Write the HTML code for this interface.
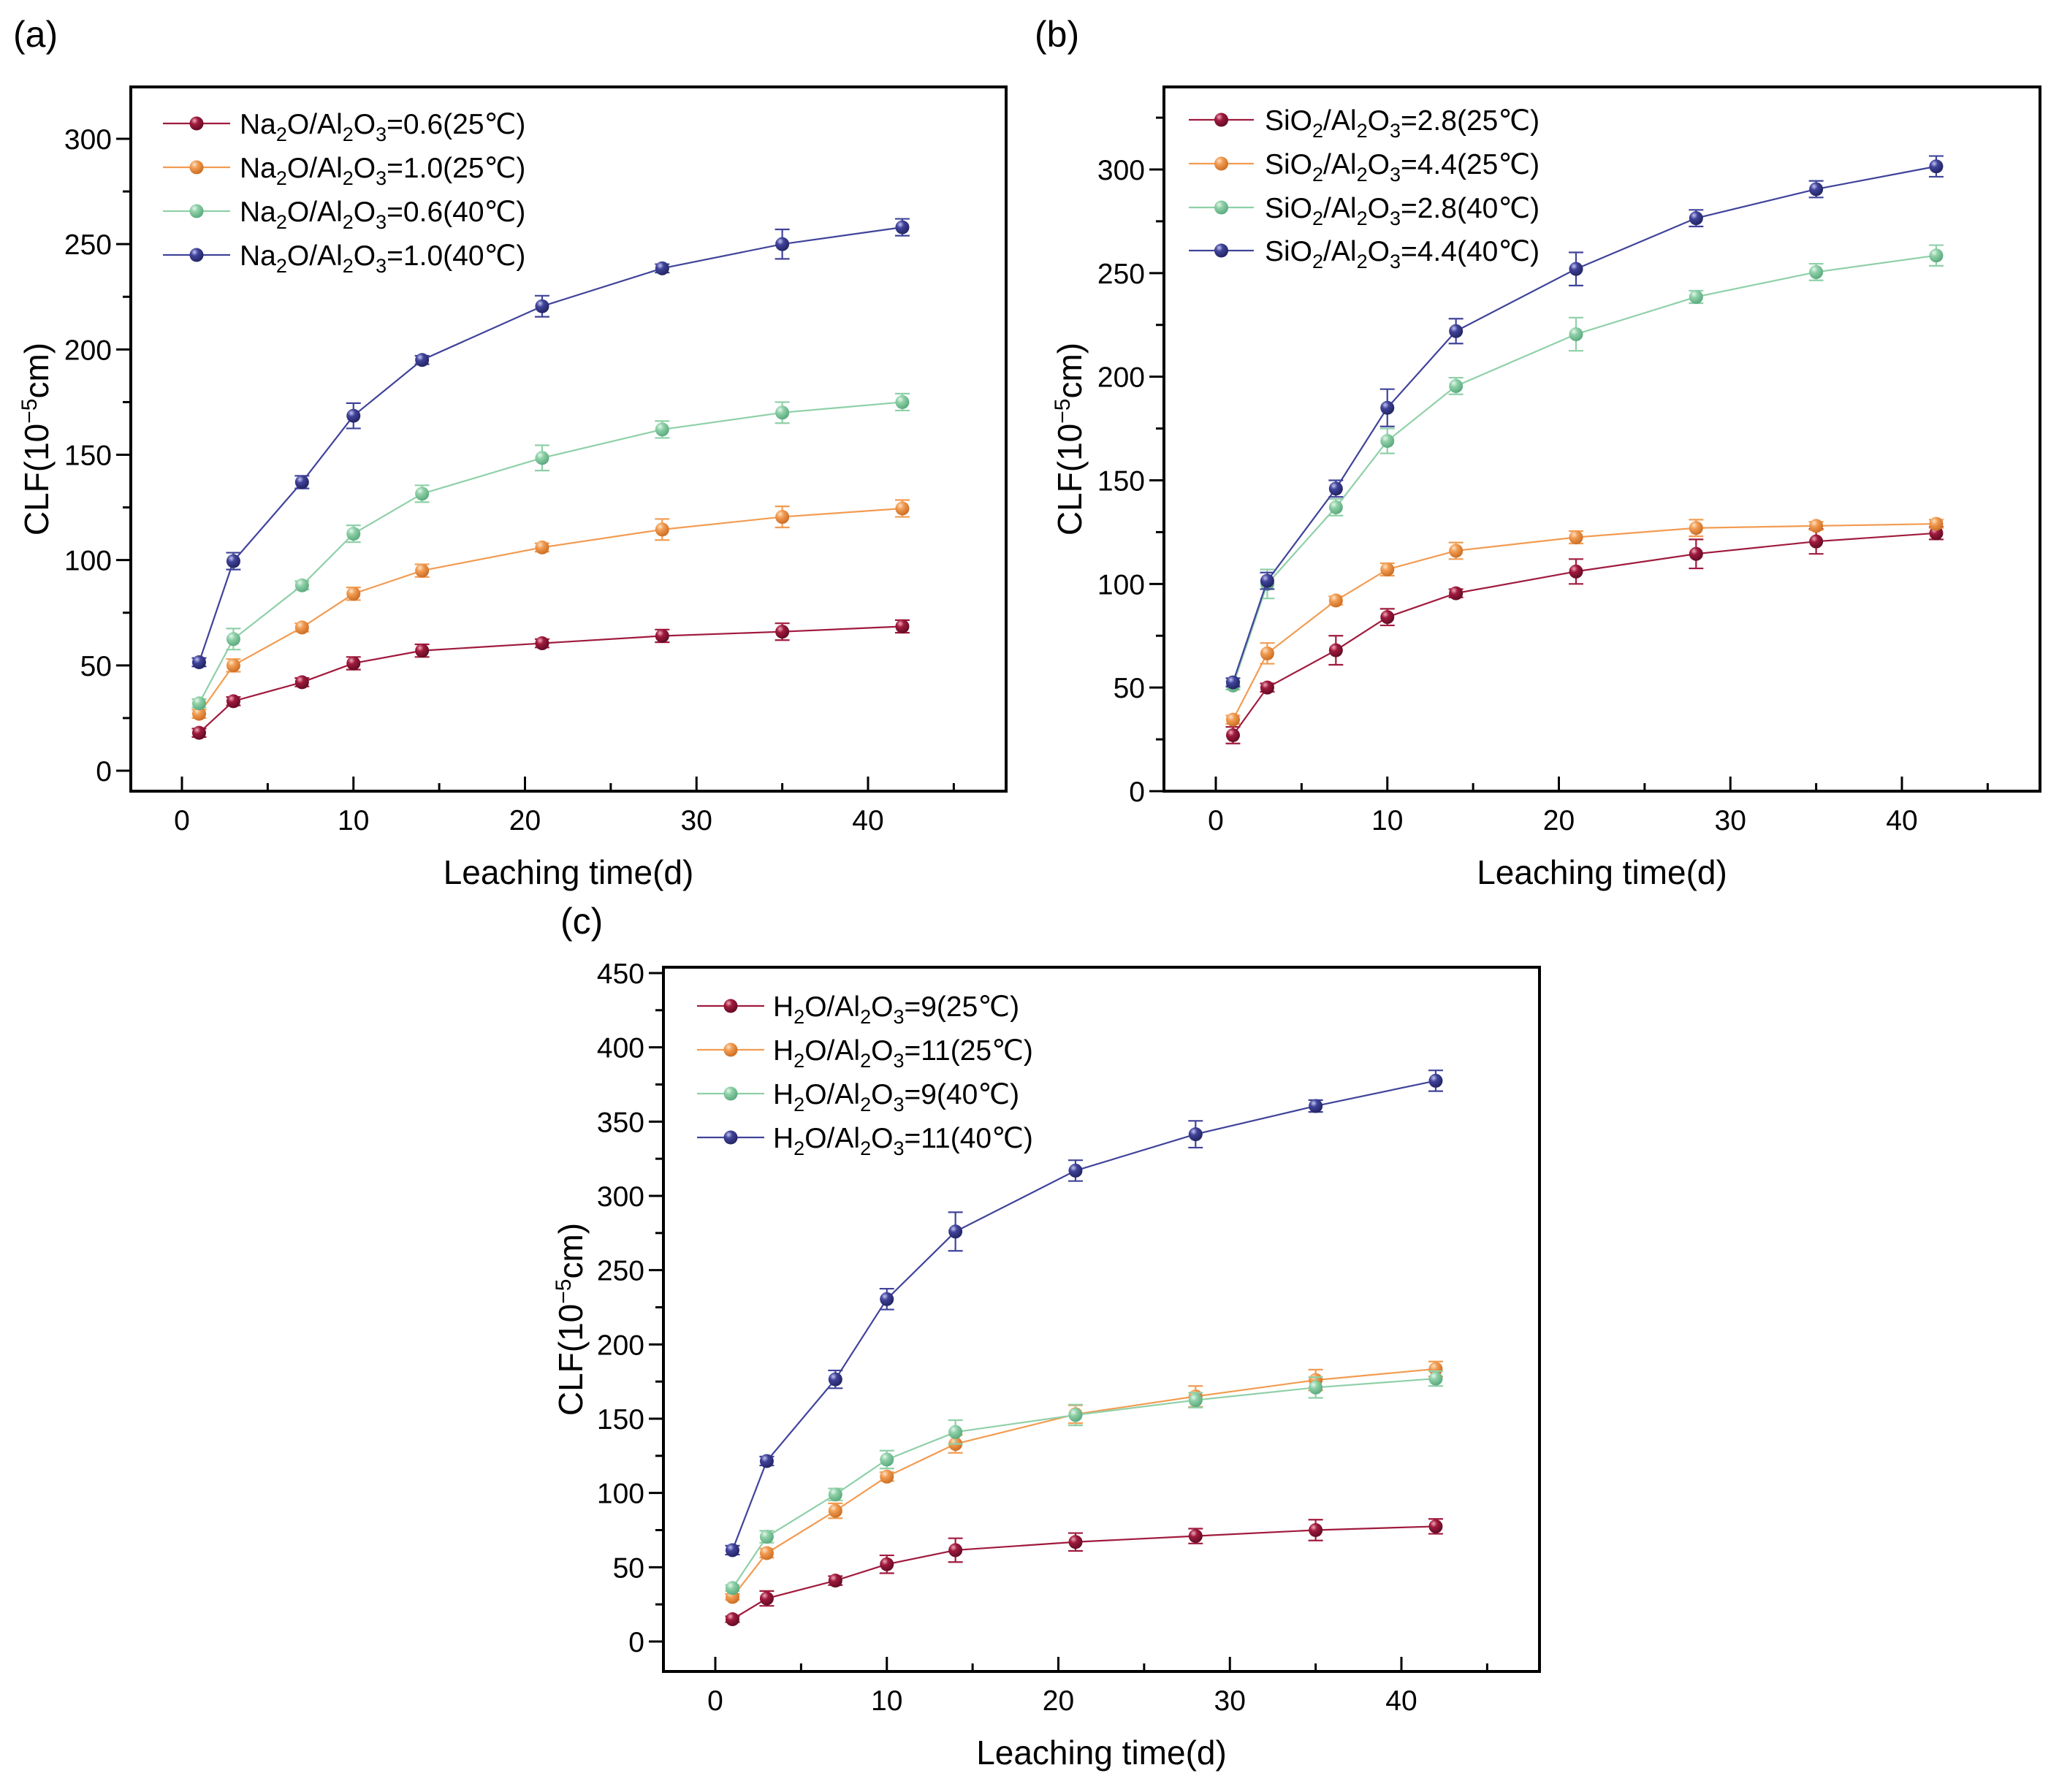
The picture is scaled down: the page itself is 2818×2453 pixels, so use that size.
<!DOCTYPE html>
<html><head><meta charset="utf-8">
<style>
html,body{margin:0;padding:0;background:#fff;}
svg{display:block;font-family:"Liberation Sans",Arial,sans-serif;}
</style></head>
<body>
<svg id="fig" width="2818" height="2453" viewBox="0 0 2818 2453" xmlns="http://www.w3.org/2000/svg">
<defs>
<radialGradient id="gr0" cx="0.35" cy="0.3" r="0.75"><stop offset="0" stop-color="#f2a9bb"/><stop offset="0.35" stop-color="#a01a3d"/><stop offset="1" stop-color="#5e0a22"/></radialGradient>
<radialGradient id="gr1" cx="0.35" cy="0.3" r="0.75"><stop offset="0" stop-color="#fde3c8"/><stop offset="0.35" stop-color="#f29c52"/><stop offset="1" stop-color="#c86a20"/></radialGradient>
<radialGradient id="gr2" cx="0.35" cy="0.3" r="0.75"><stop offset="0" stop-color="#e6f7ec"/><stop offset="0.35" stop-color="#8fd0a8"/><stop offset="1" stop-color="#56a77a"/></radialGradient>
<radialGradient id="gr3" cx="0.35" cy="0.3" r="0.75"><stop offset="0" stop-color="#c4c6f0"/><stop offset="0.35" stop-color="#40439a"/><stop offset="1" stop-color="#20225e"/></radialGradient>
</defs>
</svg>
<script>
// shared x categories (days)
const days = [1,3,7,10,14,21,28,35,42];
const xTicks = [0,10,20,30,40];
const colors = ['#a01a3d','#f29c52','#8fd0a8','#40439a'];

// panel (a)
const aRed = [18,33,42,51,57,60.5,64,66,68.5];
const aOrange = [27,50,68,84,95,106,114.5,120.5,124.5];
const aGreen = [32,62.5,88,112.5,131.5,148.5,162,170,175];
const aBlue = [51.5,99.5,137,168.5,195,220.5,238.5,250,258];
const aRedErr = [2,2,2,3,3,2,3,4,3];
const aOrangeErr = [2,3,2,3,3,2,5,5,4];
const aGreenErr = [2,5,2,4,4,6,4,5,4];
const aBlueErr = [2,4,3,6,2,5,2,7,4];
const aYTicks = [0,50,100,150,200,250,300];
const aLegendVals = ['=0.6(25℃)','=1.0(25℃)','=0.6(40℃)','=1.0(40℃)'];

// panel (b)
const bRed = [27,50,68,84,95.5,106,114.5,120.5,124.5];
const bOrange = [34.5,66.5,92,107,116,122.5,127,128,129];
const bGreen = [51,100,137,169,195.5,220.5,238.5,250.5,258.5];
const bBlue = [52.5,101.5,146,185,222,252,276.5,290.5,301.5];
const bRedErr = [4,2,7,4,2,6,7,6,3];
const bOrangeErr = [2,5,2,3,4,3,4,2,2];
const bGreenErr = [2,7,4,6,4,8,3,4,5];
const bBlueErr = [2,4,4,9,6,8,4,4,5];
const bYTicks = [0,50,100,150,200,250,300];
const bLegendVals = ['=2.8(25℃)','=4.4(25℃)','=2.8(40℃)','=4.4(40℃)'];

// panel (c)
const cRed = [15,29,41,52,61.5,67,71,75,77.5];
const cOrange = [30,59.5,88,111,133,153,165,176,183.5];
const cGreen = [36,70.5,99,122.5,141,152.5,162.5,171,177];
const cBlue = [61.5,121.5,176.5,230.5,276,317,341.5,360.5,377.5];
const cRedErr = [2,5,3,6,8,6,5,7,5];
const cOrangeErr = [2,3,5,3,6,6,7,7,5];
const cGreenErr = [2,4,4,6,8,7,5,7,5];
const cBlueErr = [3,3,6,7,13,7,9,4,7];
const cYTicks = [0,50,100,150,200,250,300,350,400,450];
const cLegendVals = ['=9(25℃)','=11(25℃)','=9(40℃)','=11(40℃)'];

const NS='http://www.w3.org/2000/svg';
const svg=document.getElementById('fig');
function mk(tag,attrs,parent){const e=document.createElementNS(NS,tag);for(const k in attrs)e.setAttribute(k,attrs[k]);(parent||svg).appendChild(e);return e;}

function panel(cfg){
  const g=mk('g',{});
  
  
  const L=cfg.left,R=cfg.right,T=cfg.top,B=cfg.bottom;
  const xs=v=>cfg.x0+(cfg.x40-cfg.x0)*v/40;
  const ys=v=>cfg.y0-(cfg.y0-cfg.yTop)*v/cfg.yTopVal;
  // frame
  const fr=mk('rect',{x:L,y:T,width:R-L,height:B-T,fill:'none',stroke:'#000','stroke-width':4},g);
  
  
  // x ticks (inward)
  for(let v=0;v<=45;v+=5){
    const major=v%10===0;
    mk('line',{x1:xs(v),x2:xs(v),y1:B,y2:B-(major?20:11),stroke:'#000','stroke-width':3},g);
  }
  xTicks.forEach(v=>{
    const t=mk('text',{x:xs(v),y:B+53,'font-size':39,'text-anchor':'middle',fill:'#000'},g);
    t.textContent=v;
    
    
  });
  // y ticks (outward)
  const yt=cfg.yTicks;
  const step=yt[1]-yt[0];
  for(let v=0;v<=yt[yt.length-1]+step/2;v+=step/2){
    const yy=ys(v); if(yy<T-1)continue;
    const major=(v%step)===0;
    mk('line',{x1:L,x2:L-(major?20:11),y1:yy,y2:yy,stroke:'#000','stroke-width':3},g);
  }
  yt.forEach(v=>{
    const t=mk('text',{x:L-26,y:ys(v)+14,'font-size':39,'text-anchor':'end',fill:'#000'},g);
    t.textContent=v;
    
    
  });
  // axis titles
  const xt=mk('text',{x:(L+R)/2,y:B+127,'font-size':46,'text-anchor':'middle',fill:'#000'},g);
  xt.textContent='Leaching time(d)';
  
  
  const cy=(T+B)/2;
  const ytl=mk('text',{x:cfg.ytx,y:cy,'font-size':46,'text-anchor':'middle',fill:'#000',transform:`rotate(-90 ${cfg.ytx} ${cy})`},g);
  
  
  let s=mk('tspan',{},ytl);s.textContent='CLF(10';
  s=mk('tspan',{dy:-16,'font-size':30},ytl);s.textContent='−5';
  s=mk('tspan',{dy:16},ytl);s.textContent='cm)';
  // panel label
  const pl=mk('text',{x:cfg.labX,y:cfg.labY,'font-size':50,fill:'#000'},g);
  pl.textContent=cfg.label;
  
  
  // series
  cfg.series.forEach((vals,si)=>{
    const sg=mk('g',{},g);
    
    
    const pts=days.map((d,i)=>xs(d)+','+ys(vals[i])).join(' ');
    mk('polyline',{points:pts,fill:'none',stroke:colors[si],'stroke-width':2.2},sg);
    const err=cfg.errs[si];
    days.forEach((d,i)=>{
      const x=xs(d),y1=ys(vals[i]-err[i]),y2=ys(vals[i]+err[i]);
      mk('line',{x1:x,x2:x,y1:y1,y2:y2,stroke:colors[si],'stroke-width':2.2},sg);
      mk('line',{x1:x-10,x2:x+10,y1:y1,y2:y1,stroke:colors[si],'stroke-width':2.2},sg);
      mk('line',{x1:x-10,x2:x+10,y1:y2,y2:y2,stroke:colors[si],'stroke-width':2.2},sg);
    });
    days.forEach((d,i)=>{
      const c=mk('circle',{cx:xs(d),cy:ys(vals[i]),r:9.5,fill:`url(#gr${si})`},sg);
      
      
    });
  });
  // legend
  const lg=mk('g',{},g);
  
  
  cfg.legendVals.forEach((lab,i)=>{
    const y=cfg.legY[i];
    const eg=mk('g',{},lg);
    
    
    mk('line',{x1:cfg.legX1,x2:cfg.legX2,y1:y,y2:y,stroke:colors[i],'stroke-width':2.2},eg);
    mk('circle',{cx:(cfg.legX1+cfg.legX2)/2,cy:y,r:9.5,fill:`url(#gr${i})`},eg);
    const t=mk('text',{x:cfg.legTX,y:y+14,'font-size':39,fill:'#000'},eg);
    cfg.prefix.forEach(p=>{
      const sp=mk('tspan',p[1]?{dy:10,'font-size':27}:{dy:p[2]||0},t);
      sp.textContent=p[0];
    });
    const sp=mk('tspan',{dy:-10},t);sp.textContent=lab;
  });
}

const naPre=[['Na'],['2',1],['O/Al',0,-10],['2',1],['O',0,-10],['3',1]];
const siPre=[['SiO'],['2',1],['/Al',0,-10],['2',1],['O',0,-10],['3',1]];
const hPre=[['H'],['2',1],['O/Al',0,-10],['2',1],['O',0,-10],['3',1]];

panel({name:'panel-a',label:'(a)',labX:18,labY:64,left:179,right:1377,top:119,bottom:1083,x0:249,x40:1188,y0:1055,yTop:190,yTopVal:300,yTicks:aYTicks,ytx:66,
  series:[aRed,aOrange,aGreen,aBlue],errs:[aRedErr,aOrangeErr,aGreenErr,aBlueErr],legendVals:aLegendVals,prefix:naPre,
  legX1:223,legX2:315,legTX:328,legY:[169,229,289,349]});
panel({name:'panel-b',label:'(b)',labX:1416,labY:64,left:1593,right:2792,top:119,bottom:1083,x0:1664,x40:2603,y0:1083,yTop:232,yTopVal:300,yTicks:bYTicks,ytx:1480,
  series:[bRed,bOrange,bGreen,bBlue],errs:[bRedErr,bOrangeErr,bGreenErr,bBlueErr],legendVals:bLegendVals,prefix:siPre,
  legX1:1627,legX2:1716,legTX:1731,legY:[164,224,284,343]});
panel({name:'panel-c',label:'(c)',labX:767,labY:1278,left:908,right:2107,top:1324,bottom:2288,x0:979,x40:1918,y0:2247,yTop:1332,yTopVal:450,yTicks:cYTicks,ytx:797,
  series:[cRed,cOrange,cGreen,cBlue],errs:[cRedErr,cOrangeErr,cGreenErr,cBlueErr],legendVals:cLegendVals,prefix:hPre,
  legX1:954,legX2:1046,legTX:1058,legY:[1377,1437,1497,1557]});
</script>
</body></html>
